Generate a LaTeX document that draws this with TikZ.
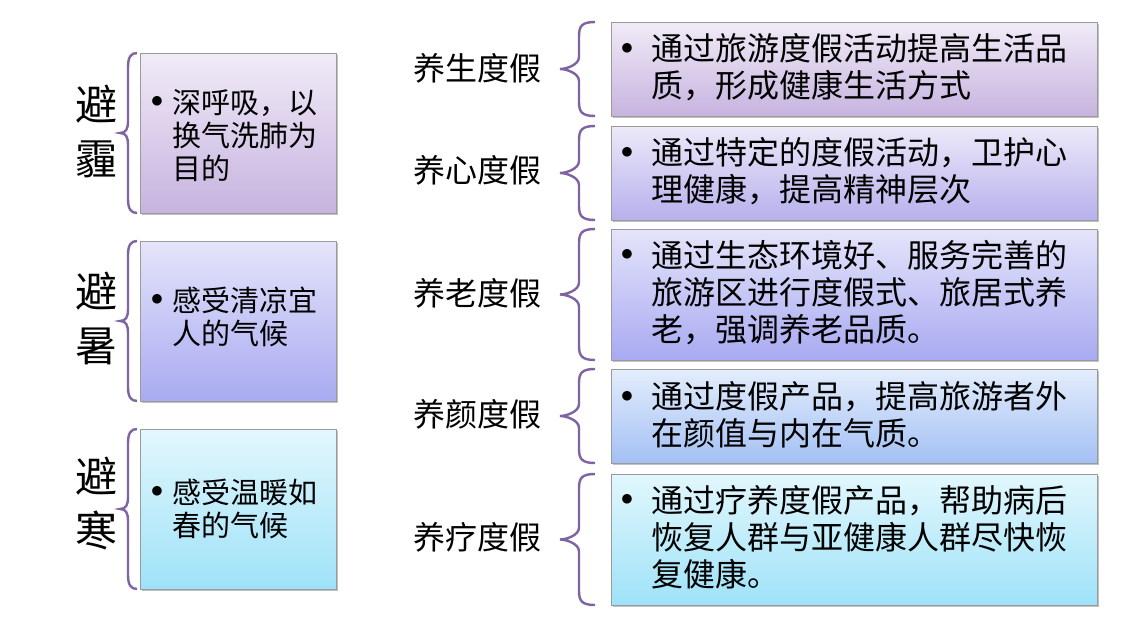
\documentclass[tikz,border=0pt]{standalone}
\usepackage{fontspec}
\newfontfamily\cjk{Noto Sans CJK SC}
\usetikzlibrary{shadows}
\definecolor{brc}{HTML}{8064A2}
\definecolor{boxline}{HTML}{9A9A9A}
\definecolor{pTop}{HTML}{F1EBF7}
\definecolor{pBot}{HTML}{C6B3DF}
\definecolor{lTop}{HTML}{ECE9F9}
\definecolor{lBot}{HTML}{B6B0EC}
\definecolor{vTop}{HTML}{E4E4FA}
\definecolor{vBot}{HTML}{A8AAF1}
\definecolor{bTop}{HTML}{E3EDFC}
\definecolor{bBot}{HTML}{A3C0F4}
\definecolor{cTop}{HTML}{E2F7FD}
\definecolor{cBot}{HTML}{9EE2F8}
\newcommand\drawbrace[5]{% #1 end x, #2 line x, #3 tip x, #4 top y, #5 bottom y
  \pgfmathsetmacro\bym{(#4+#5)/2}
  \draw[bracestyle] (#1,#4) .. controls (#2+3,#4) and (#2,#4+4) .. (#2,#4+14)
    -- (#2,\bym-12) .. controls (#2,\bym-4) and (#3+6,\bym) .. (#3,\bym)
    .. controls (#3+6,\bym) and (#2,\bym+4) .. (#2,\bym+12)
    -- (#2,#5-14) .. controls (#2,#5-4) and (#2+3,#5) .. (#1,#5);}
\begin{document}
\begin{tikzpicture}[x=1pt,y=-1pt,
  box/.style={draw=boxline, line width=0.8pt, anchor=north west, inner sep=0pt,
    drop shadow={shadow xshift=2pt,shadow yshift=-2pt,fill=black!40,opacity=0.6}},
  bracestyle/.style={draw=brc, line width=2.4pt},
  ltxt/.style={font=\cjk\fontsize{29}{33}\selectfont, align=left, inner sep=0pt, anchor=base west},
  rtxt/.style={font=\cjk\fontsize{32}{37}\selectfont, align=left, inner sep=0pt, anchor=base west},
  lbul/.style={font=\fontsize{29}{33}\selectfont, inner sep=0pt},
  rbul/.style={font=\fontsize{32}{37}\selectfont, inner sep=0pt},
  llab/.style={font=\cjk\fontsize{42}{54}\selectfont, align=center, inner sep=0pt, anchor=base},
  rlab/.style={font=\cjk\fontsize{32}{37}\selectfont, inner sep=0pt, anchor=base}]
\useasboundingbox[fill=white] (0,0) rectangle (1141,629);

% left column
\node[box, top color=pTop, bottom color=pBot, minimum width=196pt, minimum height=160pt] (b1) at (140,53) {};
\node[box, top color=vTop, bottom color=vBot, minimum width=196pt, minimum height=160pt] (b2) at (140,241) {};
\node[box, top color=cTop, bottom color=cBot, minimum width=196pt, minimum height=160pt] (b3) at (140,429) {};

% (multi-line nodes: base anchor = baseline of last line)
\node[lbul] (u1) at (157,102) {$\bullet$};
\node[ltxt] (t1) at (172,179) {深呼吸，以\\换气洗肺为\\目的};
\node[lbul] (u2) at (157,300) {$\bullet$};
\node[ltxt] (t2) at (172,344) {感受清凉宜\\人的气候};
\node[lbul] (u3) at (157,492) {$\bullet$};
\node[ltxt] (t3) at (172,536) {感受温暖如\\春的气候};

\node[llab] (l1) at (96,174) {避\\霾};
\node[llab] (l2) at (96,361) {避\\暑};
\node[llab] (l3) at (96,546) {避\\寒};

\drawbrace{137}{128}{120}{53}{213}
\drawbrace{137}{128}{120}{241}{401}
\drawbrace{137}{128}{120}{429}{589}

% right column
\node[box, top color=pTop, bottom color=pBot, minimum width=486pt, minimum height=94pt] (rA) at (611,22) {};
\node[box, top color=lTop, bottom color=lBot, minimum width=486pt, minimum height=94pt] (rB) at (611,126) {};
\node[box, top color=vTop, bottom color=vBot, minimum width=486pt, minimum height=131pt] (rC) at (611,229) {};
\node[box, top color=bTop, bottom color=bBot, minimum width=486pt, minimum height=94pt] (rD) at (611,369) {};
\node[box, top color=cTop, bottom color=cBot, minimum width=486pt, minimum height=131pt] (rE) at (611,474) {};

\node[rbul] (vA) at (627,49) {$\bullet$};
\node[rtxt] (sA) at (651,97) {通过旅游度假活动提高生活品\\质，形成健康生活方式};
\node[rbul] (vB) at (627,153) {$\bullet$};
\node[rtxt] (sB) at (651,201) {通过特定的度假活动，卫护心\\理健康，提高精神层次};
\node[rbul] (vC) at (627,255) {$\bullet$};
\node[rtxt] (sC) at (651,341) {通过生态环境好、服务完善的\\旅游区进行度假式、旅居式养\\老，强调养老品质。};
\node[rbul] (vD) at (627,397) {$\bullet$};
\node[rtxt] (sD) at (651,445) {通过度假产品，提高旅游者外\\在颜值与内在气质。};
\node[rbul] (vE) at (627,500) {$\bullet$};
\node[rtxt] (sE) at (651,586) {通过疗养度假产品，帮助病后\\恢复人群与亚健康人群尽快恢\\复健康。};

\node[rlab] (mA) at (477,80) {养生度假};
\node[rlab] (mB) at (477,182) {养心度假};
\node[rlab] (mC) at (477,305) {养老度假};
\node[rlab] (mD) at (477,426) {养颜度假};
\node[rlab] (mE) at (477,549) {养疗度假};

\drawbrace{595}{579}{560}{22}{116}
\drawbrace{595}{579}{560}{126}{220}
\drawbrace{595}{579}{560}{229}{360}
\drawbrace{595}{579}{560}{369}{463}
\drawbrace{595}{579}{560}{474}{605}
\end{tikzpicture}
\end{document}
